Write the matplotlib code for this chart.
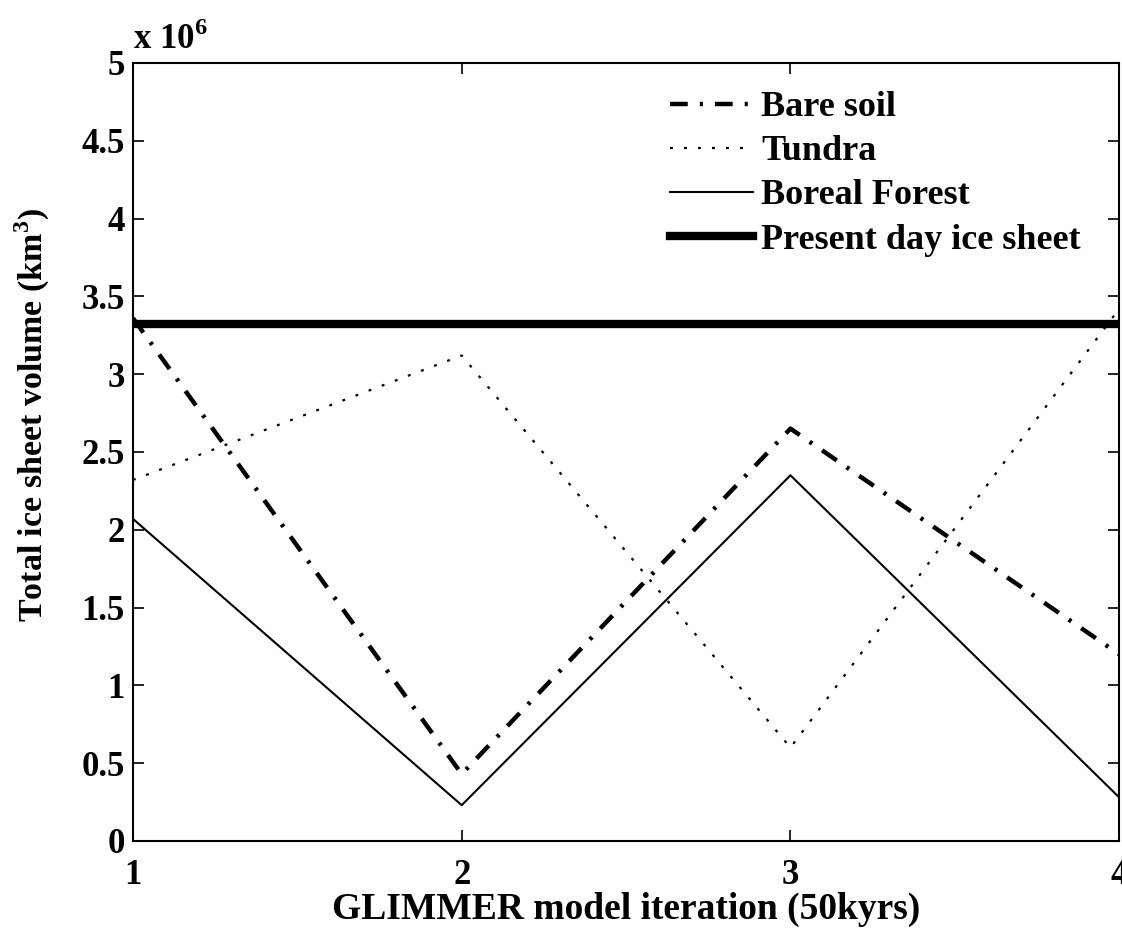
import numpy as np
import matplotlib.pyplot as plt

# GLIMMER iterations (50 kyrs each)
iteration = [1, 2, 3, 4]
bare_soil = [3.36, 0.43, 2.65, 1.20]
tundra = [2.32, 3.12, 0.60, 3.42]
boreal_forest = [2.07, 0.23, 2.35, 0.28]
present_day = 3.32

yticks = np.arange(0, 5.01, 0.5)
ytick_labels = ['0', '0.5', '1', '1.5', '2', '2.5', '3', '3.5', '4', '4.5', '5']

plt.rcParams['font.family'] = 'Liberation Serif'
plt.rcParams['font.weight'] = 'bold'
plt.rcParams['mathtext.fontset'] = 'custom'
plt.rcParams['mathtext.rm'] = 'Liberation Serif:bold'
plt.rcParams['mathtext.bf'] = 'Liberation Serif:bold'

fig = plt.figure(figsize=(11.22, 9.34), dpi=100)
ax = fig.add_axes([0.1185, 0.0996, 0.879, 0.833])

ax.plot(iteration, bare_soil, color='k', lw=3.2, dashes=(4, 2.7, 0.7, 2.7), label='Bare soil')
ax.plot(iteration, tundra, color='k', lw=1.6, dashes=(1.3, 5), label='Tundra')
ax.plot(iteration, boreal_forest, color='k', lw=1.5, label='Boreal Forest')
ax.plot([1, 4], [present_day, present_day], color='k', lw=6, label='Present day ice sheet')

ax.set_xlim(1, 4)
ax.set_ylim(0, 5)
ax.set_xticks(iteration)
ax.set_xticklabels([str(i) for i in iteration])
ax.set_yticks(yticks)
ax.set_yticklabels(ytick_labels)
ax.tick_params(direction='in', length=8, width=1.2, top=True, right=True, labelsize=25)
ax.tick_params(axis='x', pad=13)
ax.tick_params(axis='y', pad=6)
for s in ax.spines.values():
    s.set_linewidth(1.5)

ax.set_xlabel('GLIMMER model iteration (50kyrs)', fontsize=27, fontweight='bold', labelpad=0)
ax.set_ylabel('Total ice sheet volume (km$^{3}$)', fontsize=24.5, fontweight='bold')
ax.yaxis.set_label_coords(-0.082, 0.548)
ax.text(0.0, 1.008, 'x 10$^{6}$', transform=ax.transAxes, fontsize=25,
        fontweight='bold', ha='left', va='bottom')

ax.legend(loc='upper left', bbox_to_anchor=(670 / 1122, 1 - 91 / 934),
          bbox_transform=fig.transFigure, frameon=False, fontsize=26,
          handlelength=2.3, handletextpad=0.22, labelspacing=0.3,
          borderaxespad=0, borderpad=0)

fig.savefig('out.png', dpi=100)
